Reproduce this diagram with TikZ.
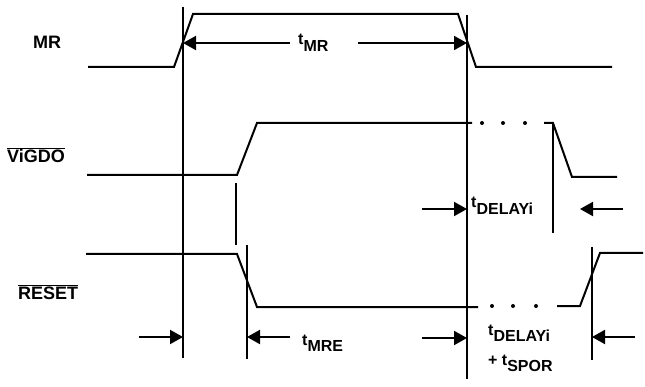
\documentclass[tikz,border=0pt]{standalone}
\usepackage{fontspec}
\setmainfont{Liberation Sans}
\usetikzlibrary{arrows.meta}
\newcommand\tsub[1]{t\raisebox{-0.42em}{#1}}
\begin{document}
\begin{tikzpicture}[x=1pt,y=-1pt,
  wave/.style={line width=2pt,line join=miter},
  vline/.style={line width=2pt},
  dim/.style={line width=2pt,-{Triangle[length=13pt,width=14pt]}},
  lbl/.style={font=\fontsize{18}{20}\selectfont\bfseries,inner sep=0pt},
  tlbl/.style={font=\fontsize{16}{18}\selectfont\bfseries,inner sep=0pt},
  dotfill/.style={fill=black,draw=none}]
\useasboundingbox (0,0) rectangle (645,387);
% labels
\node[lbl,anchor=west] (mr) at (33,42) {MR};
\node[lbl,anchor=west] (vi) at (7,155) {$\overline{\mbox{ViGDO}}$};
\node[lbl,anchor=west] (rs) at (18,292) {$\overline{\mbox{RESET}}$};
% MR waveform
\draw[wave] (88,67) -- (174,67) -- (193,14) -- (458,14) -- (476,67) -- (612,67);
% ViGDO waveform
\draw[wave] (87,175) -- (237,175) -- (257,123) -- (472,123);
\foreach \x in {482,503,525} \fill[dotfill] (\x,123) circle (2);
\draw[wave] (544,123) -- (553,123) -- (572,177) -- (617,177);
% RESET waveform
\draw[wave] (86,254) -- (237,254) -- (257,307) -- (478,307);
\foreach \x in {492,513,536} \fill[dotfill] (\x,306) circle (2);
\draw[wave] (557,306) -- (580,306) -- (600,253) -- (643,253);
% vertical markers
\coordinate (v1t) at (183,7);   \coordinate (v1b) at (183,358);
\coordinate (v2t) at (467,15);  \coordinate (v2b) at (467,379);
\coordinate (v3t) at (236,183); \coordinate (v3b) at (236,245);
\coordinate (v4t) at (247,245); \coordinate (v4b) at (247,359);
\coordinate (v5t) at (553,123); \coordinate (v5b) at (553,233);
\coordinate (v6t) at (592,247); \coordinate (v6b) at (592,360);
\draw[vline] (v1t) -- (v1b);
\draw[vline] (v2t) -- (v2b);
\draw[vline] (v3t) -- (v3b);
\draw[vline] (v4t) -- (v4b);
\draw[vline] (v5t) -- (v5b);
\draw[vline] (v6t) -- (v6b);
% tMR
\coordinate (a1) at (290,43); \coordinate (a1e) at (183,43);
\coordinate (a2) at (358,43); \coordinate (a2e) at (467,43);
\draw[dim] (a1) -- (a1e);
\draw[dim] (a2) -- (a2e);
\node[tlbl,anchor=base west] (tmr) at (298,45) {\tsub{MR}};
% tDELAYi middle
\coordinate (b1) at (422,209); \coordinate (b1e) at (467,209);
\coordinate (b2) at (623,209); \coordinate (b2e) at (580,209);
\draw[dim] (b1) -- (b1e);
\draw[dim] (b2) -- (b2e);
\node[tlbl,anchor=base west] (tdl) at (471,208) {\tsub{DELAYi}};
% bottom row
\coordinate (c1) at (139,337); \coordinate (c1e) at (183,337);
\coordinate (c2) at (290,337); \coordinate (c2e) at (247,337);
\coordinate (c3) at (422,338); \coordinate (c3e) at (467,338);
\coordinate (c4) at (635,337); \coordinate (c4e) at (592,337);
\draw[dim] (c1) -- (c1e);
\draw[dim] (c2) -- (c2e);
\draw[dim] (c3) -- (c3e);
\draw[dim] (c4) -- (c4e);
\node[tlbl,anchor=base west] (tmre) at (302,345) {\tsub{MRE}};
\node[tlbl,anchor=base west] (tdl2) at (488,335) {\tsub{DELAYi}};
\node[tlbl,anchor=base west] (tsp) at (488,365) {+ \tsub{SPOR}};
\end{tikzpicture}
\end{document}
